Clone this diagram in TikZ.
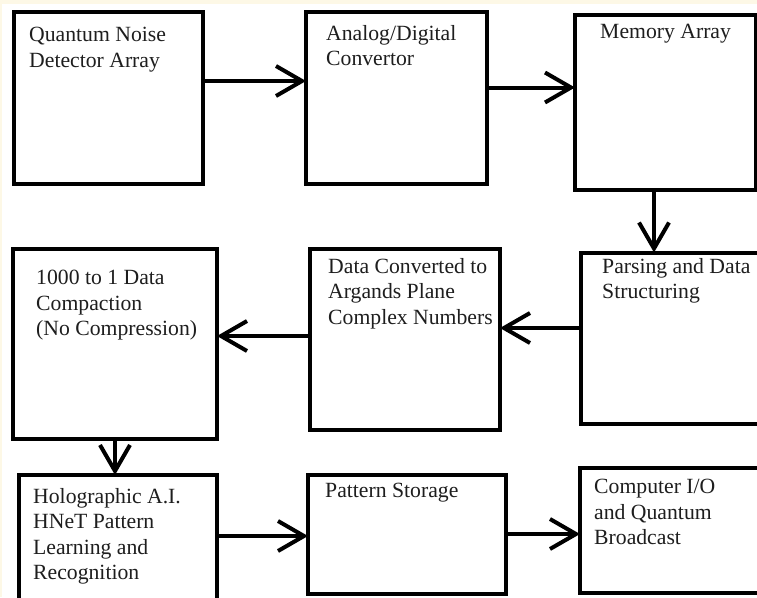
\documentclass[tikz,border=0pt]{standalone}
\usepackage{fontspec}
\setmainfont{Liberation Serif}
\usetikzlibrary{arrows.meta}
\definecolor{cream}{HTML}{FDF8E6}
\definecolor{ink}{HTML}{1E1E1E}
\tikzset{
  blk/.style={draw=black, line width=4pt, fill=white, rectangle, inner sep=0pt, outer sep=0pt},
  lbl/.style={anchor=north west, inner sep=0pt, align=left, text=ink,
    font=\fontsize{21.7}{25.5}\selectfont},
  arr/.style={line width=4pt, -{Straight Barb[length=26pt, width=30pt]}},
}
\begin{document}
\begin{tikzpicture}[x=1pt, y=-1pt]
\useasboundingbox (0,0) rectangle (757,597);
\fill[cream] (0,0) rectangle (757,597);
\fill[white] (1.5,4) rectangle (757,597);
\clip (0,0) rectangle (757,597);
% boxes
\node[blk, minimum width=189pt, minimum height=172pt] (b1) at (108.5,98) {};
\node[blk, minimum width=181pt, minimum height=172pt] (b2) at (396.5,98) {};
\node[blk, minimum width=180.5pt, minimum height=175.5pt] (b3) at (665.25,102.25) {};
\node[blk, minimum width=194pt, minimum height=171pt] (b4) at (678,338) {};
\node[blk, minimum width=190pt, minimum height=181pt] (b5) at (405,339.5) {};
\node[blk, minimum width=204pt, minimum height=190pt] (b6) at (115,344) {};
\node[blk, minimum width=198pt, minimum height=140pt] (b7) at (118,545) {};
\node[blk, minimum width=198pt, minimum height=119pt] (b8) at (407,534.5) {};
\node[blk, minimum width=195pt, minimum height=125pt] (b9) at (677.5,530.5) {};
% labels
\node[lbl] (t1) at (29,27) {Quantum Noise\\Detector Array};
\node[lbl] (t2) at (326,25) {Analog/Digital\\Convertor};
\node[lbl] (t3) at (600,24) {Memory Array};
\node[lbl] (t4) at (602,258) {Parsing and Data\\Structuring};
\node[lbl] (t5) at (328,258) {Data Converted to\\Argands Plane\\Complex Numbers};
\node[lbl] (t6) at (36,270) {1000 to 1 Data\\Compaction\\(No Compression)};
\node[lbl] (t7) at (33,488) {Holographic A.I.\\HNeT Pattern\\Learning and\\Recognition};
\node[lbl] (t8) at (325,483) {Pattern Storage};
\node[lbl] (t9) at (594,479) {Computer I/O\\and Quantum\\Broadcast};
% connectors
\draw[arr] (b1.east |- 0,81) -- (b2.west |- 0,81);
\draw[arr] (b2.east |- 0,87.5) -- (b3.west |- 0,87.5);
\draw[arr] (b3.south -| 654,0) -- (b4.north -| 654,0);
\draw[arr] (b4.west |- 0,328) -- (b5.east |- 0,328);
\draw[arr] (b5.west |- 0,336) -- (b6.east |- 0,336);
\draw[arr] (b6.south -| 115,0) -- (b7.north -| 115,0);
\draw[arr] (b7.east |- 0,536) -- (b8.west |- 0,536);
\draw[arr] (b8.east |- 0,534) -- (b9.west |- 0,534);
\end{tikzpicture}
\end{document}
